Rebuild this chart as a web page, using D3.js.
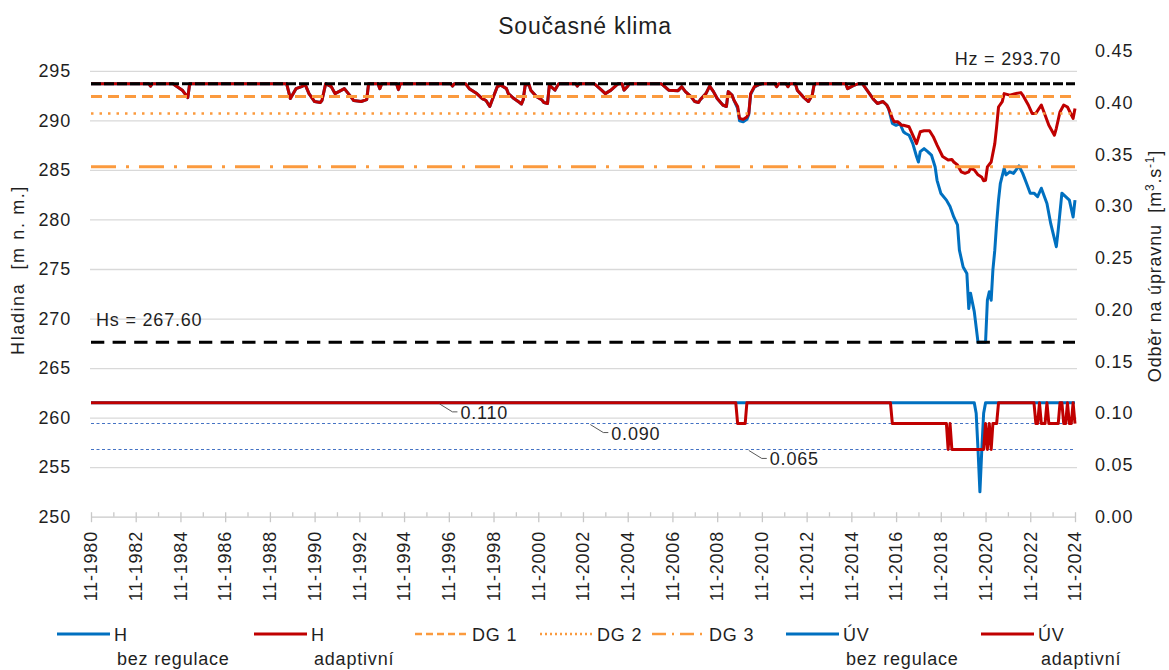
<!DOCTYPE html>
<html>
<head>
<meta charset="utf-8">
<title>Současné klima</title>
<script src="https://cdn.jsdelivr.net/npm/d3@7"></script>
<style>
  body { margin: 0; background: #fff; }
  svg text { font-family: 'Liberation Sans', Arial, sans-serif; fill: #1f1f1f; }
</style>
</head>
<body>
<div id="plot"></div>
<script>
var chart = chart || {};

// ---- values ----

var leftTicks = [250, 255, 260, 265, 270, 275, 280, 285, 290, 295];
var rightTicks = [0, 0.05, 0.10, 0.15, 0.20, 0.25, 0.30, 0.35, 0.40, 0.45];

var xTickLabels = ['11-1980', '11-1982', '11-1984', '11-1986', '11-1988', '11-1990',
  '11-1992', '11-1994', '11-1996', '11-1998', '11-2000', '11-2002', '11-2004',
  '11-2006', '11-2008', '11-2010', '11-2012', '11-2014', '11-2016', '11-2018',
  '11-2020', '11-2022', '11-2024'];

var firstMonth = '1980-11';
var lastMonth = '2024-11';

var hz = 293.70;
var hs = 267.60;
var dgNames = ['DG 1', 'DG 2', 'DG 3'];
var dgLevels = [292.42, 290.68, 285.32];
var uvLevels = [0.090, 0.065];

// H (water level) – identical for both variants until 2009
var hShared1 = [
  ['1980-11', 293.7], ['1983-06', 293.7], ['1983-07', 293.45], ['1983-08', 293.7],
  ['1984-07', 293.7], ['1984-12', 293.05], ['1985-03', 292.3], ['1985-04', 293.7],
  ['1989-08', 293.7], ['1989-10', 292.2], ['1990-01', 293.2], ['1990-04', 293.4],
  ['1990-06', 293.6], ['1990-08', 292.7], ['1990-11', 291.9], ['1991-02', 291.8],
  ['1991-03', 292.0], ['1991-05', 293.7], ['1991-08', 293.4], ['1991-10', 292.7],
  ['1991-12', 292.9], ['1992-03', 293.2], ['1992-06', 292.5], ['1992-08', 292.0],
  ['1992-12', 291.9], ['1993-03', 292.1], ['1993-04', 293.7],
  ['1993-09', 293.7], ['1993-10', 293.2], ['1993-11', 293.7],
  ['1994-07', 293.7], ['1994-08', 293.1], ['1994-09', 293.7],
  ['1996-12', 293.7], ['1997-01', 293.45], ['1997-02', 293.7],
  ['1997-08', 293.7], ['1997-10', 293.2], ['1998-02', 292.7], ['1998-05', 292.2],
  ['1998-07', 292.0], ['1998-09', 291.4], ['1998-10', 291.9], ['1999-01', 293.4],
  ['1999-03', 293.55], ['1999-06', 293.2], ['1999-07', 292.7], ['1999-10', 292.2],
  ['2000-01', 291.8], ['2000-02', 291.65], ['2000-03', 292.1], ['2000-04', 293.55],
  ['2000-06', 293.65], ['2000-07', 293.05], ['2000-10', 292.4], ['2001-01', 292.05],
  ['2001-02', 291.8], ['2001-04', 291.7], ['2001-05', 293.55], ['2001-08', 293.05],
  ['2001-09', 293.4], ['2001-10', 293.7],
  ['2002-07', 293.7], ['2002-08', 293.45], ['2002-09', 293.7],
  ['2003-05', 293.7], ['2003-06', 293.55], ['2003-09', 293.05], ['2003-11', 292.7],
  ['2004-02', 293.05], ['2004-05', 293.55], ['2004-06', 293.7],
  ['2004-08', 293.7], ['2004-09', 293.05], ['2004-11', 293.45], ['2004-12', 293.7],
  ['2006-05', 293.7], ['2006-06', 293.55], ['2006-09', 293.05], ['2007-02', 293.0],
  ['2007-04', 293.4], ['2007-06', 292.9], ['2007-09', 292.4], ['2007-11', 291.9],
  ['2008-01', 291.8], ['2008-02', 292.1], ['2008-05', 292.7], ['2008-07', 293.45],
  ['2008-09', 292.9], ['2008-11', 292.2], ['2009-02', 291.55], ['2009-04', 291.4],
  ['2009-05', 292.9], ['2009-07', 292.55], ['2009-08', 292.05]
];

var hBez2009 = [
  ['2009-10', 291.2], ['2009-11', 289.95], ['2010-01', 289.85], ['2010-03', 290.1],
  ['2010-04', 290.6], ['2010-05', 292.6], ['2010-07', 293.35], ['2010-10', 293.65],
  ['2010-11', 293.7]
];

var hAdapt2009 = [
  ['2009-10', 291.4], ['2009-11', 290.2], ['2010-01', 290.1], ['2010-03', 290.35],
  ['2010-04', 290.7], ['2010-05', 292.7], ['2010-07', 293.4], ['2010-10', 293.65],
  ['2010-11', 293.7]
];

var hShared2 = [
  ['2011-06', 293.7], ['2011-07', 293.4], ['2011-08', 293.7],
  ['2011-12', 293.7], ['2012-01', 293.4], ['2012-02', 293.7],
  ['2012-05', 293.7], ['2012-06', 293.05], ['2012-09', 292.4], ['2012-12', 291.9],
  ['2013-02', 292.55], ['2013-03', 293.55], ['2013-04', 293.7],
  ['2014-08', 293.7], ['2014-09', 293.2], ['2014-12', 293.5], ['2015-03', 293.7],
  ['2015-05', 293.7], ['2015-08', 292.9], ['2015-11', 292.1], ['2016-01', 291.7],
  ['2016-04', 291.9], ['2016-06', 291.55], ['2016-07', 291.2]
];

var hBezLate = [
  ['2016-09', 289.7], ['2016-11', 289.5], ['2017-01', 289.7], ['2017-03', 288.85],
  ['2017-04', 288.7], ['2017-06', 288.5], ['2017-08', 287.65], ['2017-10', 286.35],
  ['2017-11', 285.8], ['2017-12', 286.85], ['2018-02', 287.15], ['2018-04', 286.85],
  ['2018-06', 286.5], ['2018-08', 285.3], ['2018-09', 283.95], ['2018-11', 282.65],
  ['2019-02', 281.95], ['2019-04', 281.3], ['2019-06', 280.25], ['2019-08', 279.45],
  ['2019-09', 276.9], ['2019-11', 275.2], ['2020-01', 274.55], ['2020-02', 271.0],
  ['2020-03', 272.55], ['2020-05', 270.7], ['2020-07', 267.6], ['2020-11', 267.6],
  ['2020-12', 271.85], ['2021-01', 272.7], ['2021-02', 271.85], ['2021-03', 274.9],
  ['2021-04', 276.9], ['2021-05', 279.6], ['2021-06', 281.95], ['2021-07', 283.65],
  ['2021-09', 285.15], ['2021-10', 284.5], ['2021-12', 284.8], ['2022-02', 284.65],
  ['2022-04', 285.15], ['2022-05', 285.4], ['2022-07', 284.65], ['2022-09', 283.65],
  ['2022-11', 282.65], ['2023-01', 282.65], ['2023-03', 282.3], ['2023-05', 283.15],
  ['2023-08', 281.6], ['2023-10', 279.6], ['2024-01', 277.25], ['2024-02', 278.95],
  ['2024-04', 282.65], ['2024-06', 282.3], ['2024-08', 281.95], ['2024-10', 280.25],
  ['2024-11', 281.95]
];

var hAdaptLate = [
  ['2016-09', 290.2], ['2016-10', 289.85], ['2016-12', 289.85], ['2017-02', 289.5],
  ['2017-03', 289.5], ['2017-06', 289.35], ['2017-08', 288.5], ['2017-10', 287.65],
  ['2017-12', 288.85], ['2018-02', 288.95], ['2018-05', 288.95], ['2018-07', 288.35],
  ['2018-09', 287.5], ['2018-12', 286.35], ['2019-03', 286.0], ['2019-05', 286.05],
  ['2019-06', 285.8], ['2019-08', 285.5], ['2019-10', 284.8], ['2019-12', 284.65],
  ['2020-02', 284.8], ['2020-03', 285.15], ['2020-05', 285.0], ['2020-07', 284.5],
  ['2020-09', 284.25], ['2020-10', 283.9], ['2020-11', 283.95], ['2020-12', 285.3],
  ['2021-02', 285.8], ['2021-04', 287.65], ['2021-05', 289.35], ['2021-06', 291.35],
  ['2021-08', 291.9], ['2021-09', 292.7], ['2021-12', 292.55], ['2022-03', 292.7],
  ['2022-06', 292.8], ['2022-07', 292.55], ['2022-10', 291.55], ['2022-12', 290.7],
  ['2023-02', 290.7], ['2023-05', 291.55], ['2023-07', 290.55], ['2023-09', 289.5],
  ['2023-12', 288.5], ['2024-01', 289.2], ['2024-03', 290.85], ['2024-05', 291.55],
  ['2024-07', 291.35], ['2024-10', 290.2], ['2024-11', 291.2]
];

// ÚV (withdrawal to the treatment plant), m3/s
var uvBez = [
  ['1980-11', 0.110], ['2020-05', 0.110], ['2020-06', 0.100], ['2020-07', 0.065],
  ['2020-08', 0.024], ['2020-09', 0.065], ['2020-10', 0.100], ['2020-11', 0.110],
  ['2024-11', 0.110]
];

var uvAdapt = [
  ['1980-11', 0.110], ['2009-09', 0.110], ['2009-10', 0.090], ['2010-02', 0.090],
  ['2010-03', 0.110], ['2016-08', 0.110], ['2016-09', 0.090], ['2019-02', 0.090],
  ['2019-03', 0.065], ['2019-04', 0.090], ['2019-05', 0.065], ['2020-10', 0.065],
  ['2020-11', 0.090], ['2020-12', 0.065], ['2021-01', 0.090], ['2021-02', 0.065],
  ['2021-03', 0.090], ['2021-05', 0.090], ['2021-06', 0.110], ['2023-01', 0.110],
  ['2023-02', 0.090], ['2023-03', 0.090], ['2023-04', 0.110], ['2023-05', 0.090],
  ['2023-07', 0.090], ['2023-08', 0.110], ['2023-09', 0.090], ['2024-02', 0.090],
  ['2024-03', 0.110], ['2024-04', 0.110], ['2024-05', 0.090], ['2024-06', 0.090],
  ['2024-07', 0.110], ['2024-08', 0.090], ['2024-09', 0.090], ['2024-10', 0.110],
  ['2024-11', 0.090]
];

var noteLabels = ['0.110', '0.090', '0.065'];
var noteDates = ['1996-06', '2003-03', '2010-04'];
var noteValues = [0.110, 0.090, 0.065];

var legendNames = [['H', 'bez regulace'], ['H', 'adaptivní'], ['DG 1'], ['DG 2'], ['DG 3'],
  ['ÚV', 'bez regulace'], ['ÚV', 'adaptivní']];

// ---- look ----

chart.blue = '#0070c0';
chart.red = '#c00000';
chart.orange = '#fb9a3e';
chart.grid = '#d9d9d9';

chart.legendX = [57, 254, 415, 540, 652, 786, 981];
chart.legendStyle = [
  {color: chart.blue, width: 3, dash: null},
  {color: chart.red, width: 3, dash: null},
  {color: chart.orange, width: 2.5, dash: '7,4'},
  {color: chart.orange, width: 2.5, dash: '2,3'},
  {color: chart.orange, width: 2.5, dash: '14,6,2,6'},
  {color: chart.blue, width: 3, dash: null},
  {color: chart.red, width: 3, dash: null}
];

chart.parse = d3.timeParse('%Y-%m');
chart.parseTick = d3.timeParse('%m-%Y');

chart.path = function(data, scale, color, width, dash) {

  var line = d3.line()
    .x(function(d) {return chart.x(chart.parse(d[0]));})
    .y(function(d) {return scale(d[1]);});

  var p = chart.svg.append('path')
    .datum(data)
    .attr('d', line)
    .attr('fill', 'none')
    .attr('stroke', color)
    .attr('stroke-width', width)
    .attr('stroke-linejoin', 'round');

  if ( dash ) {
    p.attr('stroke-dasharray', dash);
  }

  return p;

};

chart.level = function(v, scale, color, width, dash) {

  return chart.path([[firstMonth, v], [lastMonth, v]], scale, color, width, dash);

};

chart.text = function(x, y, s, size) {

  return chart.svg.append('text')
    .attr('x', x)
    .attr('y', y)
    .attr('font-size', size || 18)
    .style('letter-spacing', '0.8px')
    .text(s);

};

chart.axes = function() {

  var svg = chart.svg;

  // horizontal grid
  var grid = svg.append('g')
    .attr('transform', 'translate(90,0)')
    .call(d3.axisLeft(chart.yl).tickValues(leftTicks.slice(1)).tickSize(-987).tickFormat(''));
  grid.select('.domain').remove();
  grid.selectAll('line').attr('stroke', chart.grid).attr('stroke-width', 1.3);

  // left ticks
  var gl = svg.append('g')
    .attr('transform', 'translate(90,0)')
    .call(d3.axisLeft(chart.yl).tickValues(leftTicks).tickSize(0).tickPadding(19));
  gl.attr('font-size', null).attr('font-family', null);
  gl.select('.domain').remove();
  gl.selectAll('text').attr('font-size', 18).style('letter-spacing', '0.8px');

  // right ticks
  var gr = svg.append('g')
    .attr('transform', 'translate(1077,0)')
    .call(d3.axisRight(chart.yr).tickValues(rightTicks).tickSize(0).tickPadding(18)
      .tickFormat(d3.format('.2f')));
  gr.attr('font-size', null).attr('font-family', null);
  gr.select('.domain').remove();
  gr.selectAll('text').attr('font-size', 18).style('letter-spacing', '0.8px');

  // time axis: major ticks every other year, minor in between
  var major = xTickLabels.map(chart.parseTick);
  var minor = major.slice(0, -1).map(function(d) {return d3.timeYear.offset(d, 1);});

  var gx = svg.append('g')
    .attr('transform', 'translate(0,' + chart.yl(250) + ')')
    .call(d3.axisBottom(chart.x).tickValues(major).tickSizeOuter(0).tickFormat(''));
  gx.select('.domain').attr('stroke', '#c8c8c8').attr('stroke-width', 1.3);
  gx.selectAll('.tick line').attr('y1', -4.5).attr('y2', 5.5)
    .attr('stroke', '#c8c8c8').attr('stroke-width', 1.3);

  var gm = svg.append('g')
    .attr('transform', 'translate(0,' + chart.yl(250) + ')')
    .call(d3.axisBottom(chart.x).tickValues(minor).tickSizeOuter(0).tickFormat(''));
  gm.select('.domain').remove();
  gm.selectAll('.tick line').attr('y1', -4.5).attr('y2', 0)
    .attr('stroke', '#c8c8c8').attr('stroke-width', 1.3);

  svg.append('g').selectAll('text')
    .data(xTickLabels)
    .enter().append('text')
    .attr('transform', function(d) {
      return 'translate(' + chart.x(chart.parseTick(d)) + ',531) rotate(-90)';
    })
    .attr('dy', '0.35em')
    .attr('text-anchor', 'end')
    .attr('font-size', 18)
    .style('letter-spacing', '0.8px')
    .text(function(d) {return d;});

  // titles
  chart.text(585, 34, 'Současné klima', 23).attr('text-anchor', 'middle');

  svg.append('text')
    .attr('transform', 'translate(24,270) rotate(-90)')
    .attr('text-anchor', 'middle')
    .attr('font-size', 18)
    .style('letter-spacing', '1.6px')
    .style('white-space', 'pre')
    .text('Hladina  [m n. m.]');

  var rt = svg.append('text')
    .attr('transform', 'translate(1161,266) rotate(-90)')
    .attr('text-anchor', 'middle')
    .attr('font-size', 18)
    .style('letter-spacing', '0.8px')
    .style('white-space', 'pre');
  rt.append('tspan').text('Odběr na úpravnu  [m');
  rt.append('tspan').attr('dy', -7).attr('font-size', 12).text('3');
  rt.append('tspan').attr('dy', 7).text('.s');
  rt.append('tspan').attr('dy', -7).attr('font-size', 12).text('-1');
  rt.append('tspan').attr('dy', 7).text(']');

};

chart.notes = function() {

  var svg = chart.svg;

  for ( var i = 0; i < noteLabels.length; i++ ) {
    var x0 = chart.x(chart.parse(noteDates[i]));
    var y0 = chart.yr(noteValues[i]);
    svg.append('polyline')
      .attr('points', [[x0, y0 + 1], [x0 + 13, y0 + 9], [x0 + 18, y0 + 9]].join(' '))
      .attr('fill', 'none')
      .attr('stroke', '#595959')
      .attr('stroke-width', 1);
    chart.text(x0 + 21, y0 + 16, noteLabels[i]);
  }

  chart.text(1061, 65, 'Hz = ' + hz.toFixed(2)).attr('text-anchor', 'end');
  chart.text(96, 326, 'Hs = ' + hs.toFixed(2));

};

chart.legend = function() {

  var svg = chart.svg;

  legendNames.forEach(function(n, i) {
    var x0 = chart.legendX[i];
    var st = chart.legendStyle[i];
    var l = svg.append('line')
      .attr('x1', x0).attr('x2', x0 + 53)
      .attr('y1', 634).attr('y2', 634)
      .attr('stroke', st.color)
      .attr('stroke-width', st.width);
    if ( st.dash ) {
      l.attr('stroke-dasharray', st.dash);
    }
    chart.text(x0 + 57, 640.5, n[0]);
    if ( n.length > 1 ) {
      chart.text(x0 + 60, 665, n[1]);
    }
  });

};

chart.init = function() {

  chart.svg = d3.select('#plot').append('svg')
    .attr('width', 1169)
    .attr('height', 670);

  chart.x = d3.scaleTime()
    .domain([chart.parseTick(xTickLabels[0]), chart.parseTick(xTickLabels[xTickLabels.length - 1])])
    .range([91, 1075]);
  chart.yl = d3.scaleLinear().domain([250, 297]).range([516.7, 51]);
  chart.yr = d3.scaleLinear().domain([0, 0.45]).range([516.7, 51]);

  chart.axes();

  var hBez = hShared1.concat(hBez2009, hShared2, hBezLate);
  var hAdapt = hShared1.concat(hAdapt2009, hShared2, hAdaptLate);

  chart.path(hBez, chart.yl, chart.blue, 3);
  chart.path(hAdapt, chart.yl, chart.red, 3);

  chart.level(dgLevels[0], chart.yl, chart.orange, 3, '11,6');
  chart.level(dgLevels[1], chart.yl, chart.orange, 2.5, '2.5,6');
  chart.level(dgLevels[2], chart.yl, chart.orange, 3, '25,10,3,10');

  chart.level(hz, chart.yl, '#000', 3, '10,3');
  chart.level(hs, chart.yl, '#000', 3, '13.3,8.3');

  uvLevels.forEach(function(v) {
    chart.level(v, chart.yr, '#4472c4', 1.1, '3,2.5');
  });

  chart.path(uvBez, chart.yr, chart.blue, 3);
  chart.path(uvAdapt, chart.yr, chart.red, 3);

  chart.notes();
  chart.legend();

};

chart.init();
</script>
</body>
</html>
